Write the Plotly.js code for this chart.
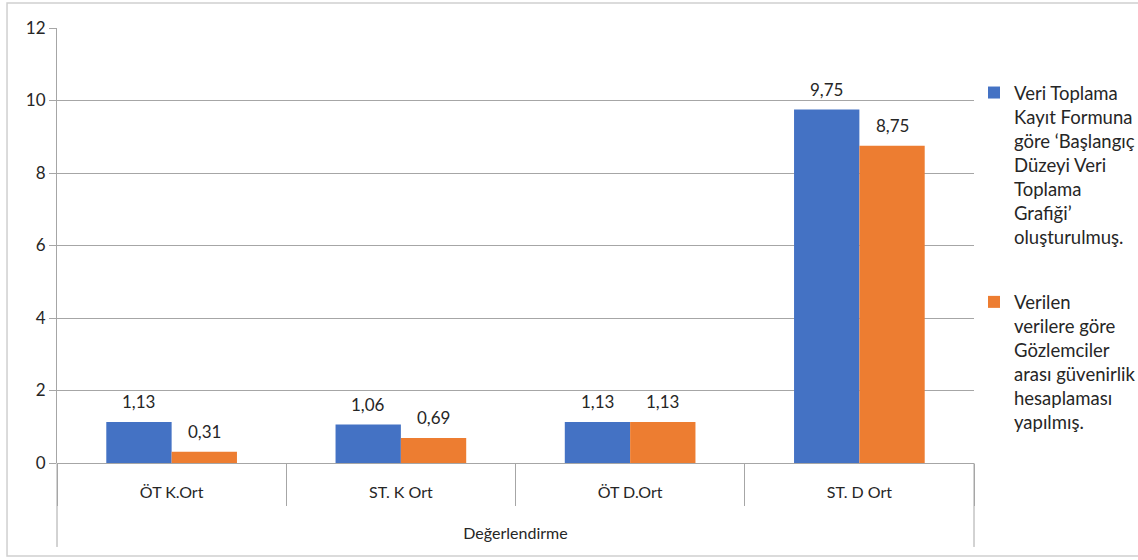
<!DOCTYPE html>
<html>
<head>
<meta charset="utf-8">
<script src="https://cdn.plot.ly/plotly-3.0.1.min.js"></script>
<style>html,body{margin:0;padding:0;background:#fff;}#chart{width:1138px;height:560px;}</style>
</head>
<body>
<div id="chart"></div>
<script>
const categories = ['ÖT K.Ort', 'ST. K Ort', 'ÖT D.Ort', 'ST. D Ort'];
const seriesNames = [
  'Veri Toplama<br>Kayıt Formuna<br>göre ‘Başlangıç<br>Düzeyi Veri<br>Toplama<br>Grafiği’<br>oluşturulmuş.',
  'Verilen<br>verilere göre<br>Gözlemciler<br>arası güvenirlik<br>hesaplaması<br>yapılmış.'
];
const blueValues = [1.13, 1.06, 1.13, 9.75];
const orangeValues = [0.31, 0.69, 1.13, 8.75];
const yTicks = [0, 2, 4, 6, 8, 10, 12];
const xTitle = 'Değerlendirme';

const FONT = 'Lato, "Open Sans", sans-serif';
const TXT = '#262626';
const GRID = '#a6a6a6';
const bargap = 0.43;
const barW = (1 - bargap) / 2;

const fmt = v => v.toFixed(2).replace('.', ',');

const traces = [
  {type: 'bar', x: categories, y: blueValues, name: seriesNames[0], legendgroup: 'g1', marker: {color: '#4472C4'}, hoverinfo: 'none'},
  {type: 'bar', x: categories, y: orangeValues, name: seriesNames[1], legendgroup: 'g2', marker: {color: '#ED7D31'}, hoverinfo: 'none'}
];

const annotations = [];
[blueValues, orangeValues].forEach((vals, s) => {
  vals.forEach((v, i) => {
    annotations.push({
      x: i + (s === 0 ? -barW / 2 : barW / 2), y: v, xref: 'x', yref: 'y',
      text: fmt(v), showarrow: false, yanchor: 'bottom', yshift: 8,
      font: {family: FONT, size: 17, color: TXT}
    });
  });
});

const shapes = [
  {type: 'rect', xref: 'paper', yref: 'paper', x0: -0.0545, x1: 1.19, y0: -0.2138, y1: 1.0575,
   line: {color: '#d0d0d0', width: 1.5}, fillcolor: 'rgba(0,0,0,0)', layer: 'below'},
  {type: 'line', xref: 'paper', yref: 'paper', x0: 0, x1: 0, y0: 0, y1: -0.193, line: {color: GRID, width: 1}},
  {type: 'line', xref: 'paper', yref: 'paper', x0: 1, x1: 1, y0: 0, y1: -0.193, line: {color: GRID, width: 1}}
];

const layout = {
  width: 1138, height: 560,
  margin: {l: 57, r: 164, t: 28, b: 97},
  paper_bgcolor: '#ffffff', plot_bgcolor: '#ffffff',
  font: {family: FONT, size: 17, color: TXT},
  barmode: 'group', bargap: bargap, bargroupgap: 0,
  showlegend: true,
  legend: {
    xref: 'container', yref: 'container',
    x: 974 / 1138, y: 1 - 74 / 560, xanchor: 'left', yanchor: 'top',
    font: {family: FONT, size: 18.5, color: TXT},
    valign: 'top', tracegroupgap: 38, itemwidth: 30,
    maxheight: 480,
    bgcolor: 'rgba(0,0,0,0)'
  },
  xaxis: {
    type: 'category', range: [-0.5, 3.5],
    showgrid: false, zeroline: false, showline: false,
    ticks: 'outside', tickson: 'boundaries', ticklen: 42, tickcolor: GRID, tickwidth: 1,
    tickfont: {family: FONT, size: 16, color: TXT},
    ticklabelstandoff: 18,
    title: {text: xTitle, font: {family: FONT, size: 16, color: TXT}, standoff: 27}
  },
  yaxis: {
    range: [0, 12], tickvals: yTicks, ticktext: yTicks.map(String),
    showgrid: true, gridcolor: GRID, gridwidth: 1,
    zeroline: true, zerolinecolor: GRID, zerolinewidth: 1,
    showline: true, linecolor: GRID, linewidth: 1,
    ticks: 'outside', ticklen: 7, tickcolor: GRID,
    tickfont: {family: FONT, size: 17, color: TXT},
    fixedrange: true
  },
  annotations: annotations,
  shapes: shapes
};

Plotly.newPlot('chart', traces, layout, {displayModeBar: false, staticPlot: true});
</script>
</body>
</html>
